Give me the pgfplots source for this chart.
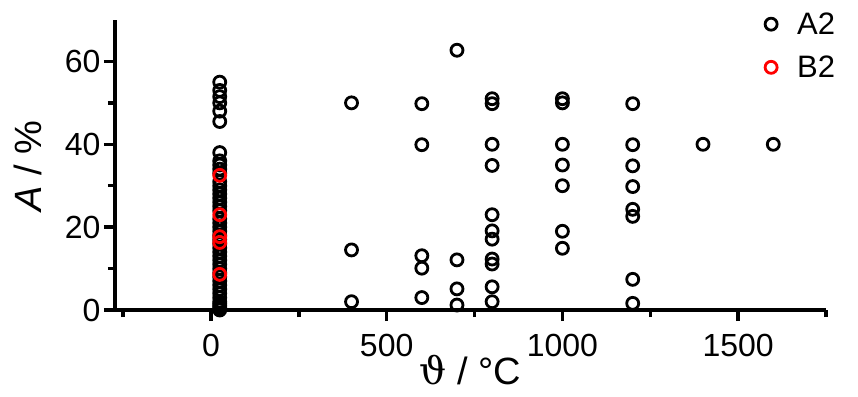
\documentclass[border=0pt]{standalone}
\usepackage{fontspec}
\setmainfont{Liberation Sans}
\newfontfamily\dvserif{DejaVu Serif}
\usepackage{pgfplots}
\pgfplotsset{compat=1.18}
\begin{document}
\begin{tikzpicture}
\begin{axis}[
  scale only axis, width=711pt, height=290pt,
  xmin=-273, xmax=1750, ymin=0, ymax=70,
  axis x line*=bottom, axis y line*=left,
  xtick={0,500,1000,1500}, minor xtick={-250,250,750,1250,1750},
  ytick={0,20,40,60}, minor ytick={10,30,50},
  tick align=outside, major tick length=11pt, minor tick length=7pt,
  every tick/.style={black, line width=3.5pt},
  axis line style={line width=3.5pt},
  tick label style={font=\fontsize{32}{34}\selectfont},
  xticklabel style={yshift=-10pt},
  /pgf/number format/assume math mode=true,
  /pgf/number format/1000 sep={},
  scaled ticks=false,
  xlabel={{\dvserif ϑ} / °C}, ylabel={\textit{A} / \%},
  label style={font=\fontsize{38}{40}\selectfont},
  xlabel style={at={(axis description cs:0.5,-0.258)}, anchor=base, inner sep=0pt},
  ylabel style={at={(axis description cs:-0.122,0.497)}, anchor=center},
  clip=false,
  legend style={draw=none, fill=none, at={(1.02,1.04)}, anchor=north east,
    font=\fontsize{31}{33}\selectfont, row sep=16pt,
    /tikz/every odd column/.append style={column sep=18pt}},
  legend cell align=left,
]
\addplot[only marks, mark=o, mark size=6pt, mark options={line width=2.8pt, black}] coordinates {
(25,55)(25,53)(25,51.5)(25,50)(25,48)(25,45.5)
(25,38)(25,36)(25,35)(25,34)(25,33)(25,31)(25,30)(25,29)(25,28)(25,27)(25,26)(25,25)(25,24)(25,22)(25,21)(25,20)(25,19)(25,18)(25,17)(25,16)(25,15)(25,14)(25,13)(25,12)(25,11)(25,10)(25,9)(25,8)(25,7)(25,6)(25,5)(25,4)(25,3)(25,2)(25,1.5)(25,1)(25,0.5)(25,0)
(400,50)(400,14.5)(400,2)
(600,49.8)(600,39.9)(600,13.1)(600,10.1)(600,3)
(700,62.7)(700,12.1)(700,5.1)(700,1.2)
(800,51)(800,49.8)(800,40)(800,34.9)(800,23)(800,19.1)(800,17.1)(800,12.3)(800,11.1)(800,5.6)(800,2)
(1000,51)(1000,50)(1000,40)(1000,35)(1000,30)(1000,19)(1000,14.9)
(1200,49.8)(1200,39.9)(1200,34.8)(1200,29.8)(1200,24.3)(1200,22.6)(1200,7.4)(1200,1.6)
(1400,40)(1600,40)
};
\addlegendentry{A2}
\addplot[only marks, mark=o, mark size=6pt, mark options={line width=2.8pt, red}] coordinates {
(25,32.5)(25,23)(25,17.7)(25,16.3)(25,8.6)
};
\addlegendentry{B2}
\end{axis}
\pgfresetboundingbox
\path (-115pt,-86pt) rectangle (743pt,310pt);
\end{tikzpicture}
\end{document}
